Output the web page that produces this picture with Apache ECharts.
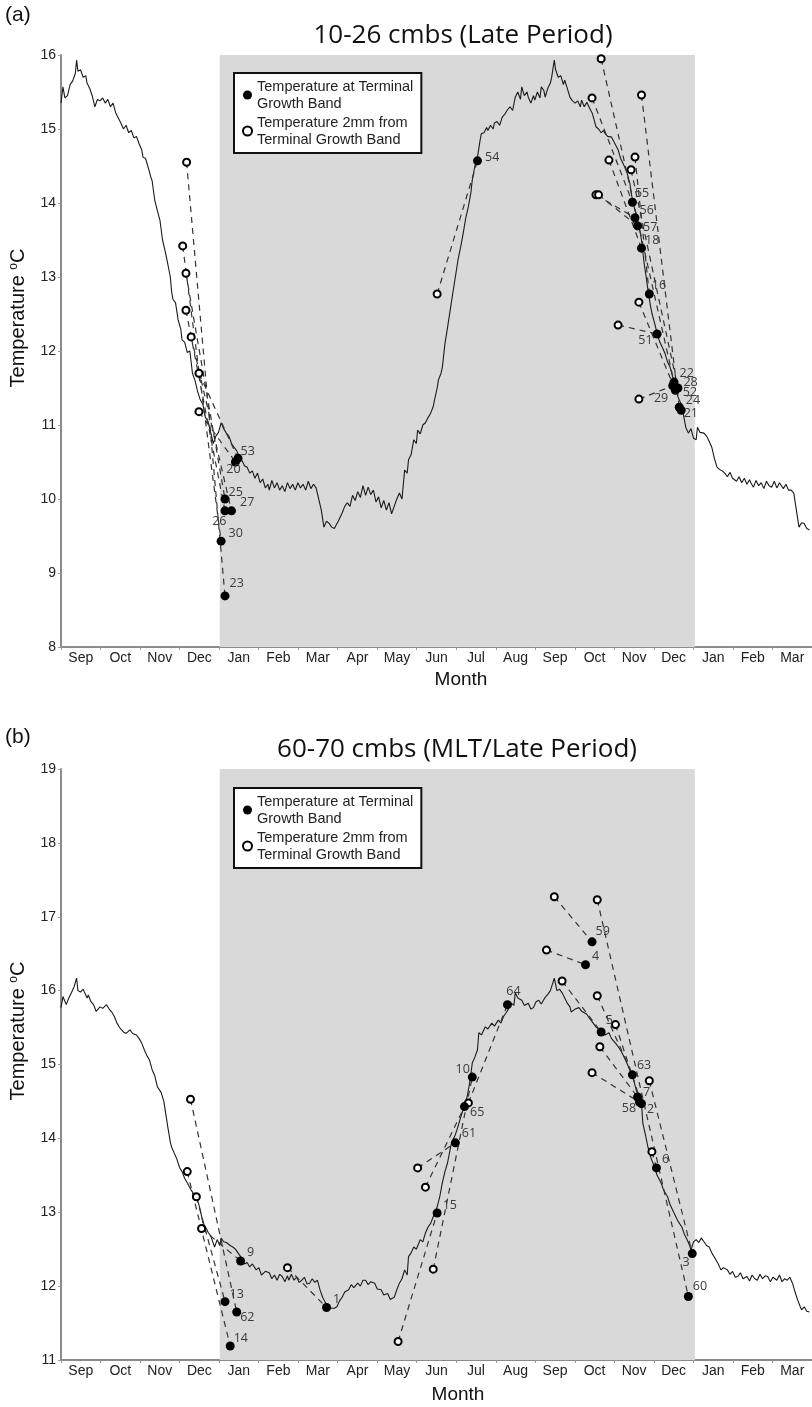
<!DOCTYPE html>
<html>
<head>
<meta charset="utf-8">
<script src="https://cdn.jsdelivr.net/npm/echarts@6/dist/echarts.min.js"></script>
<style>html,body{margin:0;padding:0;background:#fff}#chart{width:812px;height:1407px}</style>
</head>
<body>
<div id="chart"></div>
<script>
"use strict"

// x values are days counted from 1 Sep of the first year
const months = ["Sep","Oct","Nov","Dec","Jan","Feb","Mar","Apr","May","Jun","Jul","Aug","Sep","Oct","Nov","Dec","Jan","Feb","Mar"];
const dayRange = [0, 577];
const shadeDays = [122, 487];

const nameBand = "Temperature at Terminal Growth Band";
const nameOpen = "Temperature 2mm from Terminal Growth Band";

// (a) 10-26 cmbs logger record
const curveA = [
[0,15.35],[1.5,15.57],[3,15.42],[5,15.45],[7,15.6],[9,15.65],[11,15.75],[12,15.93],[13,15.78],[15,15.8],[17,15.7],[19,15.72],[20,15.62],[22,15.55],[24,15.45],[26,15.3],[28,15.4],[30,15.38],[32,15.42],[34,15.35],[36,15.4],[38,15.3],[40,15.35],[42,15.22],[44,15.15],[46,15.08],[48,15.0],[50,15.05],[52,14.95],[54,14.98],[56,14.88],[58,14.9],[60,14.8],[62,14.72],[63,14.62],[65,14.6],[67,14.48],[69,14.35],[70,14.3],[72,14.04],[74,13.9],[76,13.77],[78,13.5],[80,13.35],[81,13.27],[84,13.0],[85,12.8],[86,12.7],[88,12.65],[90,12.42],[92,12.3],[93,12.15],[95,12.12],[97,11.98],[99,12.0],[101,11.7],[103,11.6],[105,11.45],[107,11.34],[109,11.28],[111,11.1],[113,11.05],[115,10.9],[117,10.75],[119,10.85],[121,10.9],[123,11.03],[125,10.95],[127,10.89],[129,10.85],[131,10.75],[133,10.7],[135,10.65],[137,10.57],[139,10.52],[141,10.45],[143,10.43],[145,10.35],[147,10.38],[149,10.28],[151,10.35],[153,10.22],[155,10.27],[157,10.15],[159,10.2],[160,10.12],[162,10.25],[164,10.15],[166,10.22],[168,10.12],[170,10.18],[172,10.1],[174,10.22],[176,10.14],[178,10.2],[180,10.12],[182,10.22],[184,10.15],[186,10.2],[188,10.12],[190,10.24],[192,10.14],[194,10.2],[196,10.15],[197,10.15],[200,9.85],[202,9.62],[204,9.7],[206,9.67],[208,9.62],[210,9.6],[211,9.58],[213,9.7],[216,9.81],[218,9.9],[220,9.95],[222,9.9],[224,10.05],[226,9.98],[228,10.1],[230,10.02],[232,10.18],[234,10.05],[236,10.16],[238,10.06],[240,10.12],[242,9.96],[244,10.03],[246,9.88],[248,9.98],[250,9.85],[252,9.95],[254,9.8],[256,9.9],[258,10.0],[260,10.08],[262,10.0],[264,10.39],[266,10.35],[267,10.53],[269,10.6],[271,10.8],[273,10.75],[274,10.93],[276,10.88],[278,11.0],[280,11.03],[282,11.1],[284,11.16],[286,11.25],[287,11.34],[289,11.5],[290,11.61],[292,11.7],[293,11.78],[295,12.1],[297,12.32],[299,12.55],[301,12.78],[303,13.0],[305,13.23],[307,13.4],[309,13.59],[311,13.8],[313,13.95],[315,14.15],[316,14.31],[318,14.5],[320,14.62],[322,14.85],[323,14.94],[325,14.95],[327,15.02],[328,14.98],[330,15.05],[332,15.0],[333,15.08],[335,15.1],[337,15.05],[339,15.16],[341,15.2],[343,15.26],[345,15.3],[347,15.25],[349,15.43],[351,15.5],[353,15.4],[354,15.57],[356,15.45],[358,15.5],[359,15.43],[361,15.35],[363,15.45],[364,15.39],[366,15.5],[368,15.42],[369,15.57],[371,15.52],[372,15.43],[374,15.55],[376,15.62],[377,15.7],[379,15.93],[380,15.8],[382,15.7],[384,15.72],[386,15.6],[387,15.66],[389,15.55],[391,15.43],[393,15.38],[395,15.35],[397,15.38],[399,15.3],[400,15.39],[402,15.3],[404,15.36],[405,15.35],[407,15.25],[408,15.22],[410,15.1],[411,15.03],[413,15.0],[415,14.95],[417,14.98],[418,14.94],[420,14.9],[423,14.89],[425,14.82],[428,14.72],[430,14.6],[433,14.49],[435,14.4],[437,14.27],[439,14.04],[441,13.9],[443,13.77],[445,13.6],[446,13.5],[448,13.19],[450,12.95],[451,12.82],[453,12.6],[454,12.51],[456,12.38],[458,12.24],[460,12.12],[462,12.05],[464,11.97],[466,11.85],[468,11.78],[470,11.65],[472,11.57],[474,11.38],[476,11.3],[478,11.16],[480,10.97],[482,10.89],[484,10.95],[486,10.82],[487,10.84],[488,10.8],[489,10.97],[491,10.9],[494,10.89],[496,10.85],[498,10.78],[500,10.7],[502,10.55],[504,10.43],[506,10.4],[508,10.38],[510,10.35],[512,10.3],[514,10.36],[516,10.28],[517,10.3],[519,10.24],[521,10.3],[523,10.22],[525,10.28],[527,10.2],[529,10.26],[530,10.22],[532,10.16],[534,10.25],[536,10.18],[538,10.22],[540,10.14],[542,10.24],[544,10.18],[546,10.16],[548,10.24],[550,10.15],[552,10.22],[553,10.22],[555,10.14],[557,10.2],[559,10.12],[561,10.12],[563,10.08],[565,9.85],[567,9.62],[569,9.68],[571,9.67],[573,9.6],[575,9.58]
];
// [shell id, day, temp at terminal growth band]
const bandA = [
["53",136,10.55],["20",134,10.5],["25",126,10.0],["26",126,9.84],["27",131,9.84],["30",123,9.43],["23",126,8.69],
["54",320,14.57],["55",439,14.01],["56",441,13.8],["57",443,13.69],["18",446,13.39],["16",452,12.77],["51",458,12.23],
["22",471,11.58],["28",474,11.5],["52",472,11.47],["29",470,11.53],["24",475,11.24],["21",476.5,11.2]
];
// [day, temp 2mm from band, shell id it joins]
const openA = [
[96.5,14.55,"23"],[93.5,13.42,"30"],[96,13.05,"25"],[96,12.55,"26"],[100,12.19,"27"],[106,11.7,"53"],[106,11.18,"20"],
[289,12.77,"54"],[415,15.95,"22"],[408,15.42,"55"],[446,15.46,"24"],[421,14.58,"18"],[441,14.62,"16"],[438,14.45,"28"],
[411,14.11,"56"],[413,14.11,"57"],[444,12.66,"52"],[428,12.35,"51"],[444,11.35,"29"]
];

// (b) 60-70 cmbs logger record
const curveB = [
[0,15.77],[1.5,15.92],[4,15.81],[6,15.9],[8,15.97],[10,16.05],[12,16.17],[13,16.0],[15,15.98],[17,16.02],[18,16.0],[20,15.9],[21,15.94],[23,15.85],[25,15.81],[27,15.72],[28,15.7],[30,15.78],[32,15.76],[35,15.81],[37,15.75],[39,15.71],[41,15.65],[43,15.56],[45,15.5],[48,15.44],[50,15.42],[53,15.47],[55,15.42],[58,15.4],[60,15.35],[62,15.29],[64,15.2],[66,15.12],[68,15.06],[70,14.93],[72,14.85],[74,14.7],[77,14.62],[79,14.5],[80,14.39],[82,14.16],[84,13.95],[85,13.88],[87,13.8],[89,13.72],[91,13.61],[93,13.55],[95,13.46],[97,13.4],[100,13.3],[102,13.25],[104,13.21],[106,13.1],[107,13.03],[109,12.86],[111,12.8],[113,12.73],[115,12.68],[116,12.63],[118,12.53],[120,12.63],[122,12.55],[123,12.65],[125,12.6],[127,12.59],[130,12.55],[132,12.53],[134,12.5],[136,12.45],[138,12.4],[139,12.35],[141,12.3],[143,12.32],[145,12.26],[147,12.3],[150,12.22],[152,12.25],[154,12.15],[155,12.13],[157,12.2],[160,12.18],[162,12.1],[164,12.15],[166,12.08],[168,12.16],[170,12.13],[172,12.06],[174,12.14],[175,12.08],[177,12.16],[179,12.08],[181,12.12],[183,12.05],[185,12.08],[187,12.12],[189,12.03],[191,12.04],[193,12.1],[195,12.05],[197,12.08],[199,11.95],[201,11.85],[203,11.78],[205,11.72],[207,11.7],[208,11.68],[210,11.7],[212,11.72],[214,11.8],[216,11.85],[218,11.92],[221,11.95],[223,12.02],[225,11.98],[228,12.04],[230,12.0],[232,12.08],[234,12.08],[236,12.02],[238,12.06],[241,12.04],[243,11.96],[246,11.95],[248,11.88],[251,11.9],[253,11.82],[256,11.85],[258,11.95],[260,12.04],[262,12.1],[264,12.22],[266,12.15],[267,12.4],[269,12.45],[271,12.53],[273,12.5],[276,12.63],[278,12.6],[280,12.72],[282,12.8],[284,12.85],[286,12.94],[289,13.07],[291,13.21],[293,13.4],[295,13.55],[297,13.67],[299,13.85],[300,13.94],[303,14.05],[305,14.16],[307,14.28],[309,14.39],[311,14.5],[312,14.56],[314,14.75],[316,15.02],[318,15.1],[320,15.2],[321,15.43],[323,15.4],[326,15.51],[328,15.48],[331,15.56],[333,15.52],[336,15.6],[338,15.56],[340,15.65],[342,15.7],[344,15.76],[346,15.83],[348,15.8],[349,15.97],[351,15.9],[354,15.87],[356,15.8],[359,15.83],[361,15.75],[363,15.77],[365,15.85],[367,15.87],[369,15.82],[372,15.91],[374,15.95],[376,16.0],[379,16.17],[381,16.0],[383,16.02],[385,15.97],[387,15.9],[389,15.83],[391,15.78],[392,15.71],[395,15.75],[398,15.77],[400,15.72],[402,15.7],[404,15.68],[405,15.65],[408,15.58],[411,15.51],[413,15.48],[415,15.44],[418,15.4],[421,15.43],[423,15.35],[426,15.29],[429,15.22],[431,15.16],[434,15.05],[436,14.97],[438,14.88],[440,14.79],[442,14.65],[444,14.56],[446,14.48],[447,14.21],[449,14.05],[451,13.88],[453,13.75],[456,13.61],[458,13.5],[461,13.4],[463,13.3],[466,13.21],[468,13.1],[471,12.99],[474,12.88],[477,12.8],[479,12.7],[481,12.63],[483,12.55],[484,12.49],[486,12.6],[488,12.63],[490,12.59],[492,12.65],[494,12.6],[496,12.55],[498,12.53],[500,12.45],[503,12.36],[505,12.3],[507,12.22],[509,12.25],[512,12.22],[514,12.16],[516,12.2],[518,12.12],[520,12.13],[522,12.18],[524,12.1],[527,12.13],[529,12.07],[531,12.15],[533,12.1],[535,12.08],[537,12.16],[539,12.1],[541,12.14],[543,12.13],[545,12.06],[547,12.12],[550,12.08],[552,12.15],[554,12.06],[556,12.1],[558,12.08],[560,12.12],[562,12.04],[564,11.92],[566,11.81],[568,11.72],[569,11.68],[571,11.72],[573,11.66],[575,11.65]
];
const bandB = [
["9",138,12.34],["13",126,11.79],["62",135,11.65],["14",130,11.19],["1",204,11.71],
["15",289,12.99],["61",303,13.94],["65",310,14.43],["10",316,14.83],["64",343,15.81],
["59",408,16.66],["4",403,16.35],["5",415,15.44],["63",439,14.86],["7",443,14.56],["58",444.5,14.49],["2",446,14.47],
["6",457.5,13.6],["3",485,12.44],["60",482,11.86]
];
const openB = [
[99.5,14.53,"62"],[97,13.55,"14"],[104,13.21,"13"],[108,12.78,"9"],[174,12.25,"1"],
[259,11.25,"15"],[274,13.6,"61"],[280,13.34,"65"],[286,12.23,"10"],[313,14.48,"64"],
[379,17.27,"59"],[373,16.55,"4"],[412,17.23,"60"],[385,16.13,"5"],[412,15.93,"63"],[426,15.54,"2"],
[414,15.24,"7"],[408,14.89,"58"],[452,14.78,"3"],[454,13.82,"6"]
];

// label placement per shell id: [position, dx, dy]
const placeA = {
    "53":["right",-4,-7], "20":["bottom",-2,-6], "25":["right",-3,-7], "26":["left",8,11], "27":["right",2,-8],
    "30":["right",1,-8], "23":["right",-2,-13], "54":["right",1,-3], "55":["right",-4,-9], "56":["right",-2,-7],
    "57":["right",-1,1], "18":["right",-3,-8], "16":["right",-4,-9], "51":["left",2,6], "22":["right",-1,-9],
    "28":["right",-1,-6], "52":["right",1,2], "24":["right",0,-7], "21":["right",-4,3], "29":["left",2,13]
};
const placeB = {
    "9":["right",0,-9], "13":["right",-2,-7], "62":["right",-3,5], "14":["right",-3,-8], "1":["right",0,-8],
    "15":["right",-1,-8], "61":["right",0,-9], "65":["right",-1,6], "10":["left",4,-8], "64":["top",6,0],
    "59":["right",-3,-10], "4":["right",0,-8], "5":["right",-2,-12], "63":["right",-2,-9], "7":["right",-1,-5],
    "58":["left",3,6], "2":["right",-1,6], "6":["right",-1,-8], "3":["left",4,9], "60":["right",-2,-10]
};

const legendText = {};
legendText[nameBand] = "Temperature at Terminal\nGrowth Band";
legendText[nameOpen] = "Temperature 2mm from\nTerminal Growth Band";

const axisGrey = "#8c8c8c";
const tickFont = { fontFamily: "Liberation Sans", fontSize: 14, color: "#222" };

function panelSeries(idx, curve, band, open, place)
{
    const xi = idx * 2;
    const bandMap = new Map(band.map(b => [b[0], b]));
    return [
        {
            type: "line", name: "shade", xAxisIndex: xi, yAxisIndex: idx, data: [], z: 1, silent: true,
            markArea: { silent: true, itemStyle: { color: "#d9d9d9" }, data: [[{ xAxis: shadeDays[0] }, { xAxis: shadeDays[1] }]] }
        },
        {
            type: "line", name: "logger", xAxisIndex: xi, yAxisIndex: idx, data: curve, z: 3, silent: true,
            symbol: "none", showSymbol: false, lineStyle: { color: "#1a1a1a", width: 1.1 }
        },
        {
            type: "lines", coordinateSystem: "cartesian2d", xAxisIndex: xi, yAxisIndex: idx, z: 4, silent: true,
            lineStyle: { color: "#333", width: 1.2, type: [6, 5], opacity: 1 },
            data: open.map(o =>
            {
                const b = bandMap.get(o[2]);
                return { coords: [[o[0], o[1]], [b[1], b[2]]] };
            })
        },
        {
            type: "scatter", name: nameOpen, xAxisIndex: xi, yAxisIndex: idx, z: 5, silent: true,
            symbol: "circle", symbolSize: 7,
            itemStyle: { color: "#fff", borderColor: "#000", borderWidth: 2, opacity: 1 },
            data: open.map(o => [o[0], o[1]])
        },
        {
            type: "scatter", name: nameBand, xAxisIndex: xi, yAxisIndex: idx, z: 6, silent: true,
            symbol: "circle", symbolSize: 9, itemStyle: { color: "#000", opacity: 1 },
            label: { show: true, formatter: "{b}", color: "#3a3a3a", fontSize: 12.5, fontFamily: "Open Sans", distance: 2 },
            data: band.map(b =>
            {
                const p = place[b[0]] || ["right", -2, -7];
                return { name: b[0], value: [b[1], b[2]], label: { position: p[0], offset: [p[1], p[2]] } };
            })
        }
    ];
}

function xAxes(gridIndex)
{
    return [
        { type: "value", gridIndex: gridIndex, min: dayRange[0], max: dayRange[1], show: false },
        {
            type: "category", gridIndex: gridIndex, data: months, boundaryGap: true, position: "bottom",
            axisLine: { lineStyle: { color: axisGrey, width: 2 } },
            axisTick: { show: true, interval: 0, length: 3, lineStyle: { color: "#9a9a9a" } },
            axisLabel: Object.assign({ interval: 0, margin: 4 }, tickFont),
            splitLine: { show: false }
        }
    ];
}

function yAxis(gridIndex, min, max)
{
    return {
        type: "value", gridIndex: gridIndex, min: min, max: max, interval: 1,
        axisLine: { show: true, lineStyle: { color: axisGrey, width: 2 } },
        axisTick: { show: true, length: 3, lineStyle: { color: "#9a9a9a" } },
        axisLabel: Object.assign({ margin: 5 }, tickFont),
        splitLine: { show: false }
    };
}

function legendBox(top)
{
    return {
        data: [nameBand, nameOpen], orient: "vertical", left: 234, top: top,
        padding: [5, 8, 5, 8], itemGap: 2, itemWidth: 9, itemHeight: 9, selectedMode: false,
        backgroundColor: "#fff", borderColor: "#111", borderWidth: 2, borderRadius: 0,
        textStyle: { fontFamily: "Liberation Sans", fontSize: 14.5, color: "#222", lineHeight: 17 },
        formatter: n => legendText[n]
    };
}

function txt(x, y, text, font, align)
{
    return {
        type: "text", x: x, y: y, silent: true,
        style: { text: text, font: font, fill: "#111", align: align || "center", verticalAlign: "middle" }
    };
}

function yName(y)
{
    return {
        type: "text", x: 18, y: y, rotation: Math.PI / 2, silent: true,
        style: {
            text: "Temperature {sup|o}C", font: "20px Liberation Sans", fill: "#111", align: "center", verticalAlign: "middle",
            rich: { sup: { font: "12px Liberation Sans", verticalAlign: "top" } }
        }
    };
}

const myChart = echarts.init(document.getElementById("chart"), null, { renderer: "canvas" });
const option = {
    animation: false,
    grid: [
        { left: 61, top: 55, width: 753, height: 592 },
        { left: 61, top: 769, width: 753, height: 591 }
    ],
    xAxis: xAxes(0).concat(xAxes(1)),
    yAxis: [yAxis(0, 8, 16), yAxis(1, 11, 19)],
    legend: [legendBox(73), legendBox(788)],
    series: panelSeries(0, curveA, bandA, openA, placeA).concat(panelSeries(1, curveB, bandB, openB, placeB)),
    graphic: [
        txt(5, 15, "(a)", "21px Liberation Sans", "left"),
        txt(5, 737, "(b)", "21px Liberation Sans", "left"),
        txt(463, 36, "10-26 cmbs (Late Period)", "26px Open Sans"),
        txt(457, 750, "60-70 cmbs (MLT/Late Period)", "26px Open Sans"),
        txt(461, 680, "Month", "19px Liberation Sans"),
        txt(458, 1395, "Month", "19px Liberation Sans"),
        yName(318),
        yName(1031)
    ]
};
myChart.setOption(option);
</script>
</body>
</html>
